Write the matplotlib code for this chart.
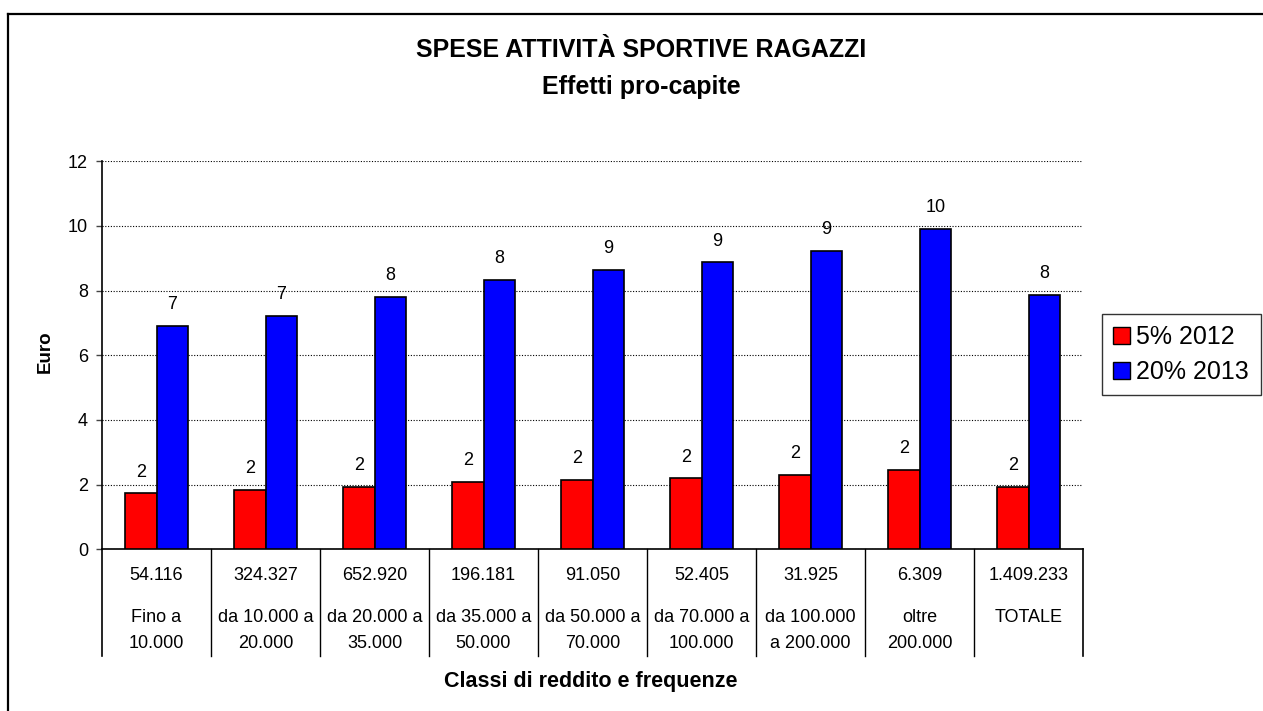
import matplotlib
matplotlib.use("Agg")
import matplotlib.pyplot as plt
from matplotlib.lines import Line2D
from matplotlib.patches import Patch
import numpy as np

plt.rcParams["font.family"] = ["Liberation Sans", "DejaVu Sans"]

# dati
frequenze = ["54.116", "324.327", "652.920", "196.181", "91.050",
             "52.405", "31.925", "6.309", "1.409.233"]
classi = ["Fino a\n10.000", "da 10.000 a\n20.000", "da 20.000 a\n35.000",
          "da 35.000 a\n50.000", "da 50.000 a\n70.000", "da 70.000 a\n100.000",
          "da 100.000\na 200.000", "oltre\n200.000", "TOTALE"]
valori_2012 = [1.73, 1.84, 1.94, 2.08, 2.15, 2.19, 2.30, 2.46, 1.93]
valori_2013 = [6.91, 7.23, 7.81, 8.33, 8.64, 8.88, 9.24, 9.92, 7.88]
serie = ["5% 2012", "20% 2013"]
colori = ["#ff0000", "#0000ff"]
y_ticks = [0, 2, 4, 6, 8, 10, 12]

W, H = 1263, 711
fig = plt.figure(figsize=(W / 100, H / 100), dpi=100)

# area del grafico in pixel
px_left, px_right, px_top, px_bottom = 102, 1083, 161.3, 549.3
ax = fig.add_axes([px_left / W, 1 - px_bottom / H,
                   (px_right - px_left) / W, (px_bottom - px_top) / H])

x = np.arange(len(classi))
bw = 0.29
b1 = ax.bar(x - bw / 2, valori_2012, bw, color=colori[0], edgecolor="black", linewidth=1.2, zorder=3)
b2 = ax.bar(x + bw / 2, valori_2013, bw, color=colori[1], edgecolor="black", linewidth=1.2, zorder=3)

for bars in (b1, b2):
    for rect in bars:
        h = rect.get_height()
        ax.annotate(f"{h:.0f}", (rect.get_x() + rect.get_width() / 2, h),
                    xytext=(0, 12), textcoords="offset points",
                    ha="center", va="baseline", fontsize=13)

ax.set_xlim(-0.5, len(classi) - 0.5)
ax.set_ylim(0, 12)
ax.set_yticks(y_ticks)
ax.set_xticks([])
ax.tick_params(axis="y", length=4, width=1, color="#444444", pad=6, labelsize=13)
ax.yaxis.grid(True, color="black", linestyle=(0, (1, 1.5)), linewidth=0.8, zorder=0)
ax.set_axisbelow(True)
for s in ("top", "right"):
    ax.spines[s].set_visible(False)
ax.spines["left"].set_linewidth(1.2)
ax.spines["bottom"].set_linewidth(1.2)

# tabella sotto l'asse x
def fy(py):
    return (px_bottom - py) / (px_bottom - px_top)

tr = ax.get_xaxis_transform()
for k in range(len(classi) + 1):
    ax.plot([k - 0.5, k - 0.5], [0, fy(655.7)], transform=tr, color="black",
            linewidth=1.2 if k in (0, len(classi)) else 1.0, clip_on=False)
for i in range(len(classi)):
    ax.text(i, fy(576), frequenze[i], transform=tr, ha="center", va="center", fontsize=13)
    for j, riga in enumerate(classi[i].split("\n")):
        ax.text(i, fy(617 + 26 * j), riga, transform=tr, ha="center", va="center", fontsize=13)

fig.text(590.5 / W, 1 - 682 / H, "Classi di reddito e frequenze", ha="center", va="center",
         fontsize=15.5, fontweight="bold")
fig.text(45 / W, 1 - 352 / H, "Euro", ha="center", va="center", rotation=90,
         fontsize=13.5, fontweight="bold")

fig.text(641 / W, 1 - 50 / H, "SPESE ATTIVITÀ SPORTIVE RAGAZZI", ha="center", va="center",
         fontsize=18, fontweight="bold")
fig.text(641 / W, 1 - 87 / H, "Effetti pro-capite", ha="center", va="center",
         fontsize=18, fontweight="bold")

handles = [Patch(facecolor=c, edgecolor="black", linewidth=1) for c in colori]
leg = fig.legend(handles, serie, loc="center left", bbox_to_anchor=(1102 / W, 1 - 354.5 / H),
                 fontsize=18, frameon=True, fancybox=False, borderpad=0.45,
                 handlelength=0.68, handleheight=0.68, handletextpad=0.25,
                 labelspacing=0.45, borderaxespad=0)
leg.get_frame().set_edgecolor("black")
leg.get_frame().set_linewidth(1)

# bordo esterno
fig.add_artist(Line2D([8 / W, 1], [1 - 14 / H, 1 - 14 / H], transform=fig.transFigure,
                      color="black", linewidth=1.6))
fig.add_artist(Line2D([8 / W, 8 / W], [0, 1 - 14 / H], transform=fig.transFigure,
                      color="black", linewidth=1.6))

fig.savefig("out.png", dpi=100)
